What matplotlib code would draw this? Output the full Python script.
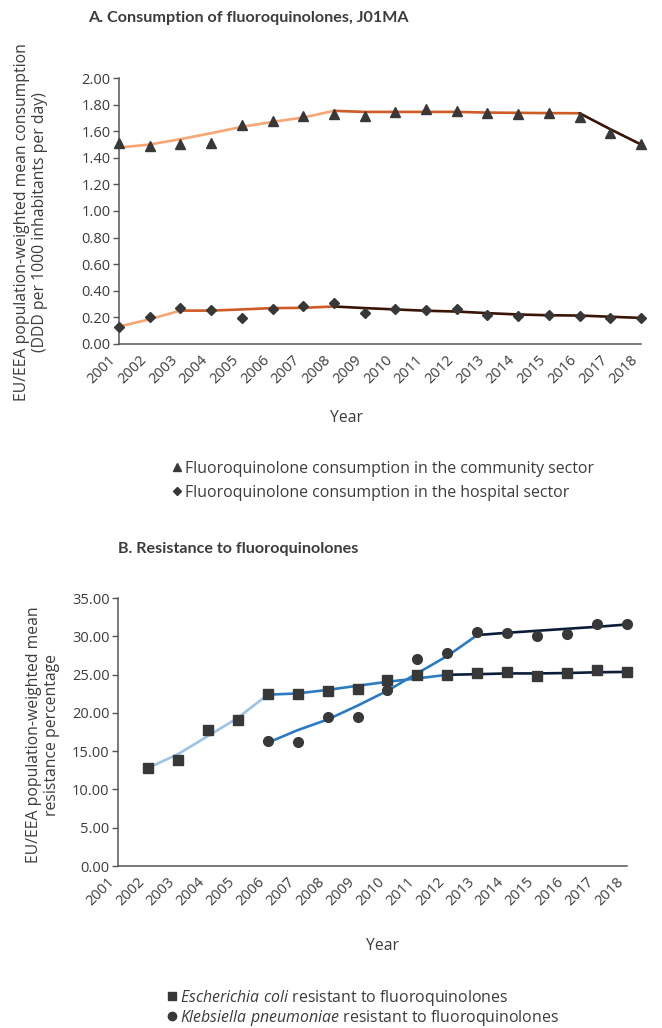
import numpy as np
import matplotlib
matplotlib.use('Agg')
import matplotlib.pyplot as plt
from matplotlib.lines import Line2D

plt.rcParams['font.family'] = ['Open Sans', 'DejaVu Sans']
plt.rcParams['mathtext.fontset'] = 'custom'
plt.rcParams['mathtext.it'] = 'Open Sans:italic'
plt.rcParams['mathtext.rm'] = 'Open Sans'

# ---------------- data ----------------
years = np.arange(2001, 2019)
year_labels = [str(y) for y in years]

# A. consumption (DDD per 1000 inhabitants per day)
community = [1.515, 1.49, 1.507, 1.515, 1.65, 1.68, 1.715, 1.728, 1.715,
             1.745, 1.77, 1.753, 1.74, 1.728, 1.735, 1.71, 1.59, 1.50]
community_trend = [1.477, 1.50, 1.54, 1.585, 1.633, 1.67, 1.703, 1.753, 1.745,
                   1.745, 1.745, 1.745, 1.74, 1.738, 1.736, 1.735, 1.615, 1.50]
community_breaks = [2001, 2008, 2016, 2018]

hospital = [0.131, 0.206, 0.274, 0.257, 0.199, 0.264, 0.282, 0.307, 0.236,
            0.264, 0.257, 0.264, 0.219, 0.211, 0.219, 0.211, 0.199, 0.199]
hospital_trend = [0.131, 0.186, 0.251, 0.251, 0.26, 0.27, 0.272, 0.282, 0.27,
                  0.26, 0.25, 0.244, 0.232, 0.222, 0.216, 0.214, 0.205, 0.196]
hospital_breaks = [2001, 2003, 2008, 2018]

# B. resistance (%)
ecoli_years = np.arange(2002, 2019)
ecoli = [12.85, 13.89, 17.70, 19.04, 22.46, 22.50, 22.85, 23.15, 24.32,
         24.97, 24.97, 25.14, 25.31, 24.84, 25.14, 25.62, 25.31]
ecoli_trend = [12.8, 14.6, 16.96, 19.34, 22.37, 22.54, 23.0, 23.54, 24.06,
               24.5, 24.97, 25.05, 25.15, 25.15, 25.2, 25.3, 25.35]
ecoli_breaks = [2002, 2006, 2012, 2018]

kpn_years = np.arange(2006, 2019)
kpn = [16.36, 16.23, 19.52, 19.52, 23.02, 27.0, 27.78, 30.55, 30.42,
       30.07, 30.25, 31.59, 31.59]
kpn_trend = [16.1, 17.74, 19.13, 20.94, 22.89, 25.18, 27.43, 30.16, 30.46,
             30.72, 30.98, 31.24, 31.54]
kpn_breaks = [2006, 2013, 2018]

# ---------------- style ----------------
txt = '#3c3c3c'
mk = '#383838'
oranges = ['#f5a673', '#cf5b26', '#3b1405']
blues = ['#9cc3e8', '#2b7bc4', '#0b1d3a']
fs_tick = 10.5
fs_lab = 11.3
fs_leg = 11.4
fs_title = 11.6


def draw_trend(ax, x, y, breaks, cols):
    x = np.asarray(x)
    y = np.asarray(y)
    for i in range(len(breaks) - 1):
        m = (x >= breaks[i]) & (x <= breaks[i + 1])
        ax.plot(x[m], y[m], color=cols[i], lw=1.9, zorder=2,
                solid_capstyle='round')


def style_axis(ax, ymax, ystep):
    for s in ['top', 'right']:
        ax.spines[s].set_visible(False)
    for s in ['left', 'bottom']:
        ax.spines[s].set_color('#555555')
        ax.spines[s].set_linewidth(1.1)
    ax.set_xlim(2001, 2018)
    ax.set_ylim(0, ymax)
    ticks = np.arange(0, ymax + ystep / 2, ystep)
    ax.set_yticks(ticks)
    ax.set_yticklabels(['%.2f' % v for v in ticks])
    ax.set_xticks(years)
    ax.set_xticklabels(year_labels, rotation=45, ha='right')
    ax.tick_params(axis='x', length=0, pad=6, labelsize=fs_tick, labelcolor=txt)
    ax.tick_params(axis='y', length=4, width=1, color='#555555', pad=2,
                   labelsize=fs_tick, labelcolor=txt)


fig = plt.figure(figsize=(6.62, 10.28), dpi=100)

# ---------------- A ----------------
ax1 = fig.add_axes([119 / 662, 1 - 344 / 1028, 522 / 662, 266 / 1028])
draw_trend(ax1, years, community_trend, community_breaks, oranges)
draw_trend(ax1, years, hospital_trend, hospital_breaks, oranges)
ax1.plot(years, community, ls='none', marker='^', ms=7, color=mk, zorder=3, clip_on=False)
ax1.plot(years, hospital, ls='none', marker='D', ms=5, color=mk, zorder=3, clip_on=False)
style_axis(ax1, 2.0, 0.2)
ax1.set_xlabel('Year', fontsize=fs_lab, color=txt)
ax1.xaxis.set_label_coords((346 - 119) / 522, -(410 - 344) / 266)

fig.text(88 / 662, 1 - 18 / 1028, 'A. Consumption of fluoroquinolones, J01MA',
         fontsize=fs_title, fontweight='bold', family=['Lato', 'DejaVu Sans'],
         color=txt, va='center', ha='left')
fig.text(31 / 662, 1 - 222 / 1028,
         'EU/EEA population-weighted mean consumption\n(DDD per 1000 inhabitants per day)',
         rotation=90, ha='center', va='center', multialignment='center',
         fontsize=fs_lab, color=txt, linespacing=1.1)

hA = [Line2D([], [], ls='none', marker='^', ms=6, color=mk),
      Line2D([], [], ls='none', marker='D', ms=4.5, color=mk)]
fig.legend(hA, ['Fluoroquinolone consumption in the community sector',
                'Fluoroquinolone consumption in the hospital sector'],
           loc='upper left', bbox_to_anchor=(163 / 662, 1 - 453 / 1028),
           frameon=False, handlelength=0.8, handletextpad=0.1,
           labelspacing=0.5, fontsize=fs_leg, labelcolor=txt, borderpad=0)

# ---------------- B ----------------
ax2 = fig.add_axes([118 / 662, 1 - 866 / 1028, 509 / 662, 268 / 1028])
draw_trend(ax2, ecoli_years, ecoli_trend, ecoli_breaks, blues)
draw_trend(ax2, kpn_years, kpn_trend, kpn_breaks, blues[1:])
ax2.plot(ecoli_years, ecoli, ls='none', marker='s', ms=7, color=mk, zorder=3, clip_on=False)
ax2.plot(kpn_years, kpn, ls='none', marker='o', ms=7, color=mk, zorder=3, clip_on=False)
style_axis(ax2, 35.0, 5.0)
ax2.set_xlabel('Year', fontsize=fs_lab, color=txt)
ax2.xaxis.set_label_coords((383 - 118) / 509, -(938 - 866) / 268)

fig.text(118 / 662, 1 - 549 / 1028, 'B. Resistance to fluoroquinolones',
         fontsize=fs_title, fontweight='bold', family=['Lato', 'DejaVu Sans'],
         color=txt, va='center', ha='left')
fig.text(43 / 662, 1 - 735 / 1028,
         'EU/EEA population-weighted mean\nresistance percentage',
         rotation=90, ha='center', va='center', multialignment='center',
         fontsize=fs_lab, color=txt, linespacing=1.1)

hB = [Line2D([], [], ls='none', marker='s', ms=6, color=mk),
      Line2D([], [], ls='none', marker='o', ms=6, color=mk)]
fig.legend(hB, [r'$\mathit{Escherichia\ coli}$ resistant to fluoroquinolones',
                r'$\mathit{Klebsiella\ pneumoniae}$ resistant to fluoroquinolones'],
           loc='upper left', bbox_to_anchor=(158 / 662, 1 - 980 / 1028),
           frameon=False, handlelength=0.8, handletextpad=0.1,
           labelspacing=0.0, fontsize=fs_leg, labelcolor=txt, borderpad=0)

fig.savefig('out.png', dpi=100)
